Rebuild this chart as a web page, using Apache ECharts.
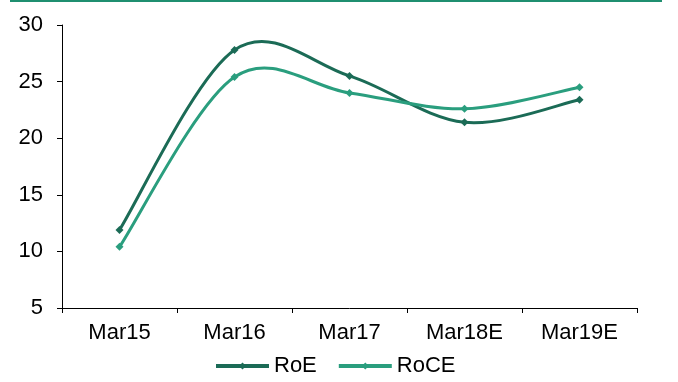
<!DOCTYPE html>
<html><head><meta charset="utf-8">
<script src="https://cdn.jsdelivr.net/npm/echarts@6/dist/echarts.min.js"></script>
<style>html,body{margin:0;padding:0;background:#fff}#c{width:678px;height:382px}</style>
</head><body><div id="c"></div>
<script>
const categories = ['Mar15','Mar16','Mar17','Mar18E','Mar19E'];
const roe = [11.9, 27.8, 25.5, 21.4, 23.4];
const roce = [10.4, 25.4, 24.0, 22.6, 24.5];
const yTicks = {min: 5, max: 30, interval: 5};

const colRoE = '#1b6b56', colRoCE = '#2a9e7e';
const font = 'Liberation Sans, Arial, sans-serif';

// Excel-style smoothed curve (Catmull-Rom) drawn through the chart's own coordinate system
function curveSeries(name, arr, color) {
  return {
    name: name, type: 'custom', silent: true, z: 1,
    data: arr.map((v, i) => [i, v]),
    encode: {x: 0, y: 1},
    renderItem: function (params, api) {
      const i = params.dataIndex, n = arr.length;
      if (i >= n - 1) return null;
      const P = k => { k = Math.max(0, Math.min(n - 1, k)); return api.coord([k, arr[k]]); };
      const p0 = P(i - 1), p1 = P(i), p2 = P(i + 1), p3 = P(i + 2);
      return {
        type: 'bezierCurve',
        shape: {
          x1: p1[0], y1: p1[1], x2: p2[0], y2: p2[1],
          cpx1: p1[0] + (p2[0] - p0[0]) / 6, cpy1: p1[1] + (p2[1] - p0[1]) / 6,
          cpx2: p2[0] - (p3[0] - p1[0]) / 6, cpy2: p2[1] - (p3[1] - p1[1]) / 6
        },
        style: {stroke: color, lineWidth: 3, fill: null}
      };
    }
  };
}

const chart = echarts.init(document.getElementById('c'));
chart.setOption({
  animation: false,
  graphic: [{type:'line', shape:{x1:10,y1:1,x2:662,y2:1}, style:{stroke:'#1f8f70', lineWidth:2}}],
  grid: {left: 62, right: 41, top: 25, bottom: 74},
  xAxis: {
    type: 'category', data: categories, boundaryGap: true,
    axisLine: {lineStyle: {color: '#000', width: 1}},
    axisTick: {show: true, alignWithLabel: false, length: 5, lineStyle: {color: '#000'}},
    axisLabel: {color: '#000', fontFamily: font, fontSize: 22, margin: 14}
  },
  yAxis: {
    type: 'value', min: yTicks.min, max: yTicks.max, interval: yTicks.interval,
    axisLine: {show: true, lineStyle: {color: '#000', width: 1}},
    axisTick: {show: true, length: 5, lineStyle: {color: '#000'}},
    splitLine: {show: false},
    axisLabel: {color: '#000', fontFamily: font, fontSize: 22, margin: 19}
  },
  legend: {
    top: 355, left: 214, padding: 0, itemWidth: 53, itemHeight: 9, itemGap: 20,
    textStyle: {color: '#000', fontFamily: font, fontSize: 22},
    data: [
      {name:'RoE', lineStyle:{color: colRoE, width: 4, opacity: 1}, itemStyle:{color: colRoE}},
      {name:'RoCE', lineStyle:{color: colRoCE, width: 4, opacity: 1}, itemStyle:{color: colRoCE}}
    ]
  },
  series: [
    curveSeries('RoE curve', roe, colRoE),
    curveSeries('RoCE curve', roce, colRoCE),
    {name:'RoE', type:'line', data: roe, symbol:'diamond', symbolSize: 8, z: 3,
     lineStyle:{color: colRoE, width: 3, opacity: 0}, itemStyle:{color: colRoE}},
    {name:'RoCE', type:'line', data: roce, symbol:'diamond', symbolSize: 8, z: 3,
     lineStyle:{color: colRoCE, width: 3, opacity: 0}, itemStyle:{color: colRoCE}}
  ]
});
</script></body></html>
